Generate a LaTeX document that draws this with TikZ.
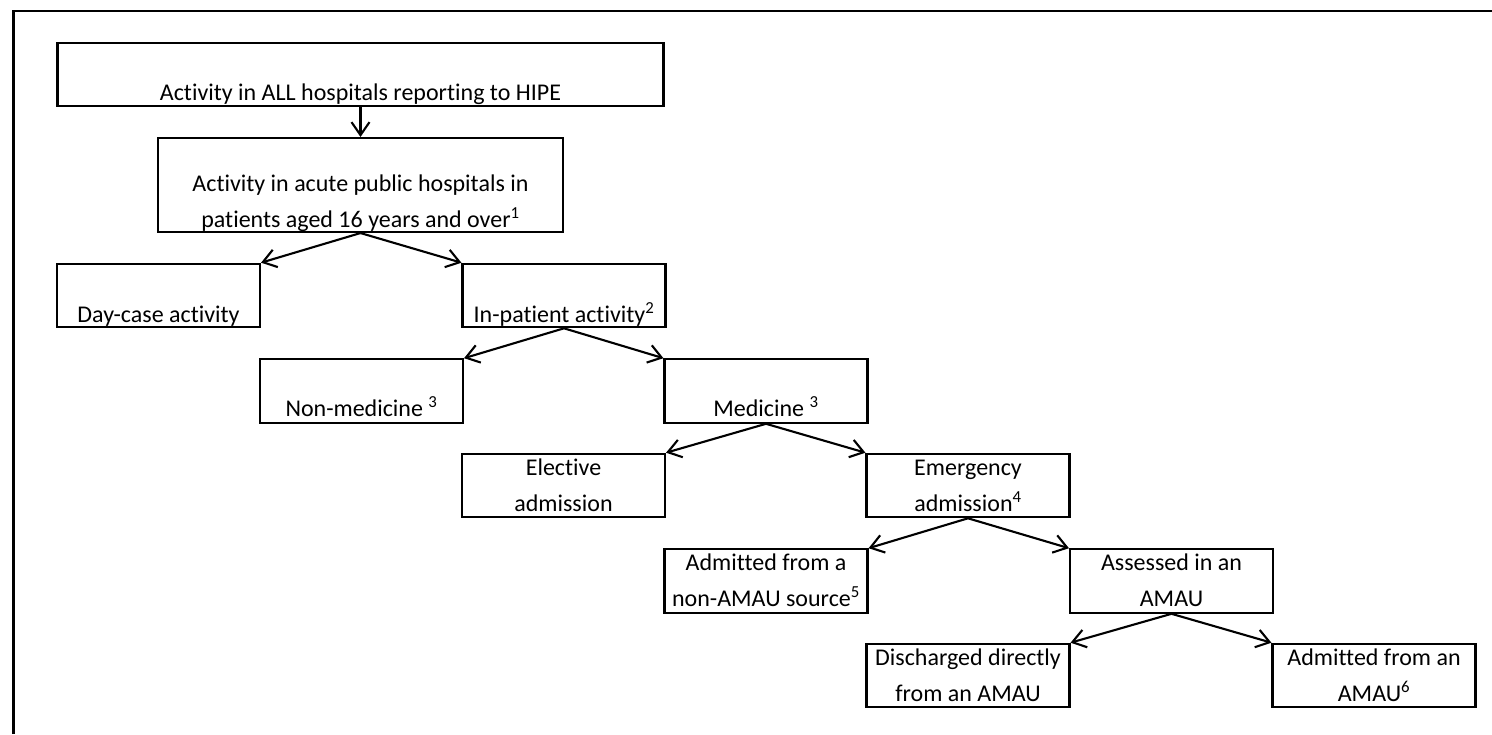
\documentclass[tikz,border=0pt]{standalone}
\usepackage{fontspec}
\setmainfont{Carlito}[Ligatures=NoCommon]
\usetikzlibrary{arrows.meta}

\begin{document}
\begin{tikzpicture}[x=1pt,y=-1pt,
  box/.style={draw, line width=2.1pt, inner sep=0pt, minimum width=#1, minimum height=63.5pt},
  box/.default=203pt,
  txt/.style={inner sep=0pt, anchor=base, font=\fontsize{24}{36}\selectfont},
  flow/.style={line width=2.1pt, -{Straight Barb[length=13pt,width=18pt,line width=2.1pt]}},
  frameline/.style={line width=2.4pt}]
\useasboundingbox (0,0) rectangle (1492,734);

% outer frame, open towards the right and the bottom
\draw[frameline] (13.5,734) -- (13.5,11) -- (1492,11);

% boxes
\node[box=606pt] (all) at (360.5,74.5) {};
\node[box=405pt, minimum height=94pt] (acute) at (360.5,185) {};
\node[box] (day) at (158.5,295.5) {};
\node[box] (inpat) at (564,295.5) {};
\node[box] (nonmed) at (361.5,391) {};
\node[box] (med) at (766,391) {};
\node[box] (elect) at (563.5,485.5) {};
\node[box] (emerg) at (968,485.5) {};
\node[box] (nonamau) at (766,581) {};
\node[box] (assess) at (1171.5,581) {};
\node[box] (disch) at (968,675.5) {};
\node[box] (admamau) at (1374,675.5) {};

% labels
\node[txt] (tall) at ([yshift=7pt]all.south) {Activity in ALL hospitals reporting to HIPE};
\node[txt] (tacuteA) at ([yshift=42pt]acute.south) {Activity in acute public hospitals in};
\node[txt] (tacuteB) at ([yshift=6pt]acute.south) {patients aged 16 years and over\textsuperscript{1}};
\node[txt] (tday) at ([yshift=6pt]day.south) {Day-case activity};
\node[txt] (tinpat) at ([yshift=6pt]inpat.south) {In-patient activity\textsuperscript{2}};
\node[txt] (tnonmed) at ([yshift=7pt]nonmed.south) {Non-medicine \textsuperscript{3}};
\node[txt] (tmed) at ([yshift=7pt]med.south) {Medicine \textsuperscript{3}};
\node[txt] (telectA) at ([yshift=43pt]elect.south) {Elective};
\node[txt] (telectB) at ([yshift=7pt]elect.south) {admission};
\node[txt] (temergA) at ([yshift=43pt]emerg.south) {Emergency};
\node[txt] (temergB) at ([yshift=7pt]emerg.south) {admission\textsuperscript{4}};
\node[txt] (tnonamauA) at ([yshift=43pt]nonamau.south) {Admitted from a};
\node[txt] (tnonamauB) at ([yshift=7pt]nonamau.south) {non-AMAU source\textsuperscript{5}};
\node[txt] (tassessA) at ([yshift=43pt]assess.south) {Assessed in an};
\node[txt] (tassessB) at ([yshift=7pt]assess.south) {AMAU};
\node[txt] (tdischA) at ([yshift=43pt]disch.south) {Discharged directly};
\node[txt] (tdischB) at ([yshift=7pt]disch.south) {from an AMAU};
\node[txt] (tadmA) at ([yshift=43pt]admamau.south) {Admitted from an};
\node[txt] (tadmB) at ([yshift=7pt]admamau.south) {AMAU\textsuperscript{6}};

% connectors
\draw[flow] (all.south) -- (acute.north);
\draw[flow] (acute.south) -- (day.north east);
\draw[flow] (acute.south) -- (inpat.north west);
\draw[flow] (inpat.south) -- (nonmed.north east);
\draw[flow] (inpat.south) -- (med.north west);
\draw[flow] (med.south) -- (elect.north east);
\draw[flow] (med.south) -- (emerg.north west);
\draw[flow] (emerg.south) -- (nonamau.north east);
\draw[flow] (emerg.south) -- (assess.north west);
\draw[flow] (assess.south) -- (disch.north east);
\draw[flow] (assess.south) -- (admamau.north west);
\end{tikzpicture}
\end{document}
